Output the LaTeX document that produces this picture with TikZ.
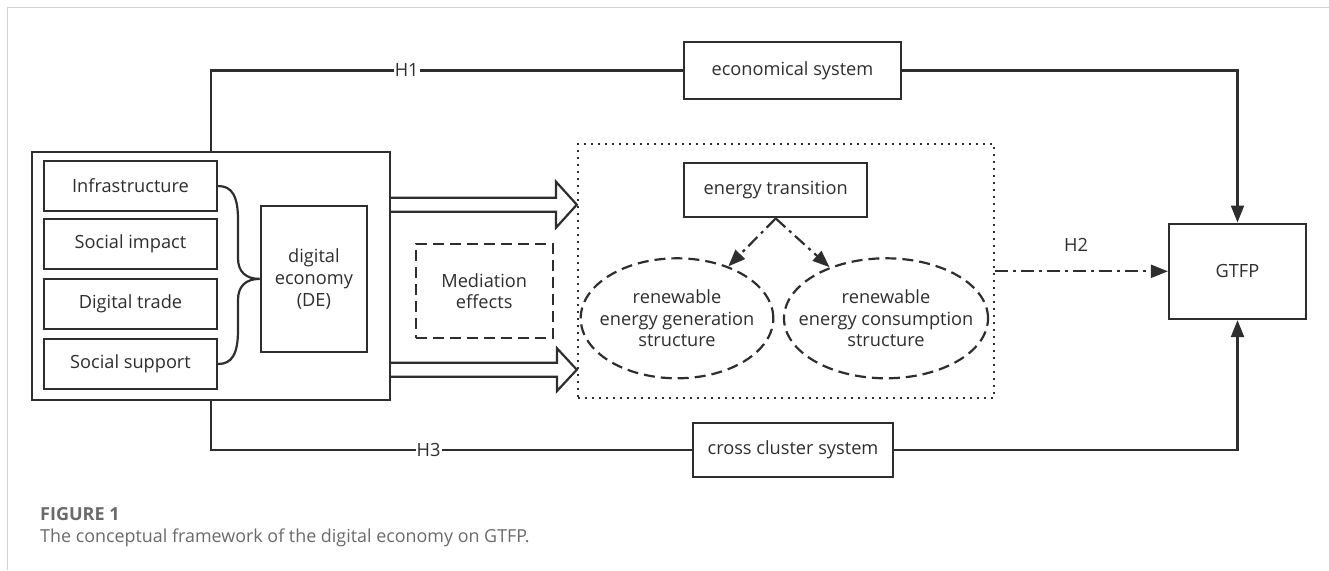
\documentclass[tikz,border=0pt]{standalone}
\usepackage{fontspec}
\setmainfont{Open Sans}
\usetikzlibrary{arrows.meta,calc,shapes.geometric}
\definecolor{ink}{HTML}{2E2E2E}
\definecolor{capgray}{HTML}{6A6A6A}
\definecolor{framegray}{HTML}{D2D2D2}
\begin{document}
\begin{tikzpicture}[x=1pt,y=-1pt,
  every node/.style={font=\fontsize{18.2}{21.7}\selectfont, text=ink},
  box/.style={draw=ink, line width=2.2pt, rectangle, inner sep=0pt, align=center},
  ln/.style={draw=ink, line width=2.2pt},
  tipa/.style={-{Triangle[length=17pt,width=13pt]}},
  lbl/.style={fill=white, inner sep=1pt},
  dashdotpat/.style={dash pattern=on 13pt off 5pt on 3pt off 5pt},
  dashpat/.style={dash pattern=on 11pt off 6pt},
  dotpat/.style={dash pattern=on 2.4pt off 4.6pt},
  oval/.style={ellipse, draw=ink, line width=2.2pt, dashpat, inner sep=0pt},
  ovaltext/.style={align=center, inner sep=0pt},
  hollow/.style={draw=ink, line width=2.2pt, fill=white, line join=miter}
]
\useasboundingbox (0,0) rectangle (1329,570);
% page frame
\draw[framegray, line width=1.4pt] (7.3,570) -- (7.3,7.3) -- (1329,7.3);

% left group
\node[box, minimum width=358pt, minimum height=248pt] (outer) at (211,276) {};
\node[box, minimum width=173pt, minimum height=50pt] (infra) at (130.5,186) {Infrastructure};
\node[box, minimum width=173pt, minimum height=50pt] (social) at (130.5,244) {Social impact};
\node[box, minimum width=173pt, minimum height=50pt] (trade) at (130.5,304) {Digital trade};
\node[box, minimum width=173pt, minimum height=50pt] (support) at (130.5,364) {Social support};
\node[box, minimum width=106.3pt, minimum height=145.7pt] (de) at (313.9,278.9) {digital\\economy\\(DE)};

\draw[ln] (infra.east) .. controls (232,186) and (238,196) .. (238,220) -- (238,258)
  .. controls (238,272) and (246,278.9) .. (de.west);
\draw[ln] (support.east) .. controls (232,364) and (238,354) .. (238,330) -- (238,300)
  .. controls (238,286) and (246,278.9) .. (de.west);

% mediation
\node[box, dashpat, minimum width=137pt, minimum height=94pt] (med) at (484.2,291.3) {Mediation\\effects};

% dotted group
\node[draw=ink, line width=2.4pt, dotpat, rectangle, minimum width=416pt, minimum height=254pt] (dotted) at (786,271) {};
\node[box, minimum width=183pt, minimum height=54.5pt] (energy) at (775.7,190.1) {energy transition};
\node[oval, minimum width=192.6pt, minimum height=120pt] (gen) at (677,318.3) {};
\node[ovaltext] (gentext) at (gen.center) {renewable\\energy generation\\structure};
\node[oval, minimum width=204pt, minimum height=120pt] (con) at (886,318.3) {};
\node[ovaltext] (context) at (con.center) {renewable\\energy consumption\\structure};
\draw[ln, dashdotpat, tipa] (energy.south) -- (gen);
\draw[ln, dashdotpat, tipa] (energy.south) -- (con);

% hollow arrows
\draw[hollow] (outer.east |- 0,197.7) -- (556,197.7) -- (556,181.7) -- (dotted.west |- 0,204.7)
  -- (556,227.7) -- (556,211.7) -- (outer.east |- 0,211.7);
\draw[hollow] (outer.east |- 0,362.7) -- (557,362.7) -- (557,348.3) -- (dotted.west |- 0,369.7)
  -- (557,391) -- (557,376.7) -- (outer.east |- 0,376.7);

% system boxes and outcome
\node[box, minimum width=217pt, minimum height=57.6pt] (econ) at (792.5,70.5) {economical system};
\node[box, minimum width=200pt, minimum height=54pt] (cross) at (793,449.7) {cross cluster system};
\node[box, minimum width=137pt, minimum height=95.4pt] (gtfp) at (1237.5,271.3) {GTFP};

% H1
\draw[ln] (outer.north) |- (econ.west);
\node[lbl] (h1) at (406.7,70.5) {H1};
\draw[ln, tipa] (econ.east) -| (gtfp.north);
% H3
\draw[ln] (outer.south) |- (cross.west);
\node[lbl] (h3) at (428.6,449.7) {H3};
\draw[ln, tipa] (cross.east) -| (gtfp.south);
% H2
\draw[ln, dashdotpat, tipa] (dotted.east |- gtfp.west) -- (gtfp.west);
\node (h2) at (1076,245) {H2};

% caption
\node[anchor=west, text=capgray, font=\fontsize{18}{20}\selectfont\bfseries, inner sep=0pt] (figlab) at (40,514) {FIGURE 1};
\node[anchor=west, text=capgray, font=\fontsize{17.9}{20}\selectfont, inner sep=0pt] (cap) at (40,537.5) {The conceptual framework of the digital economy on GTFP.};
\end{tikzpicture}
\end{document}
